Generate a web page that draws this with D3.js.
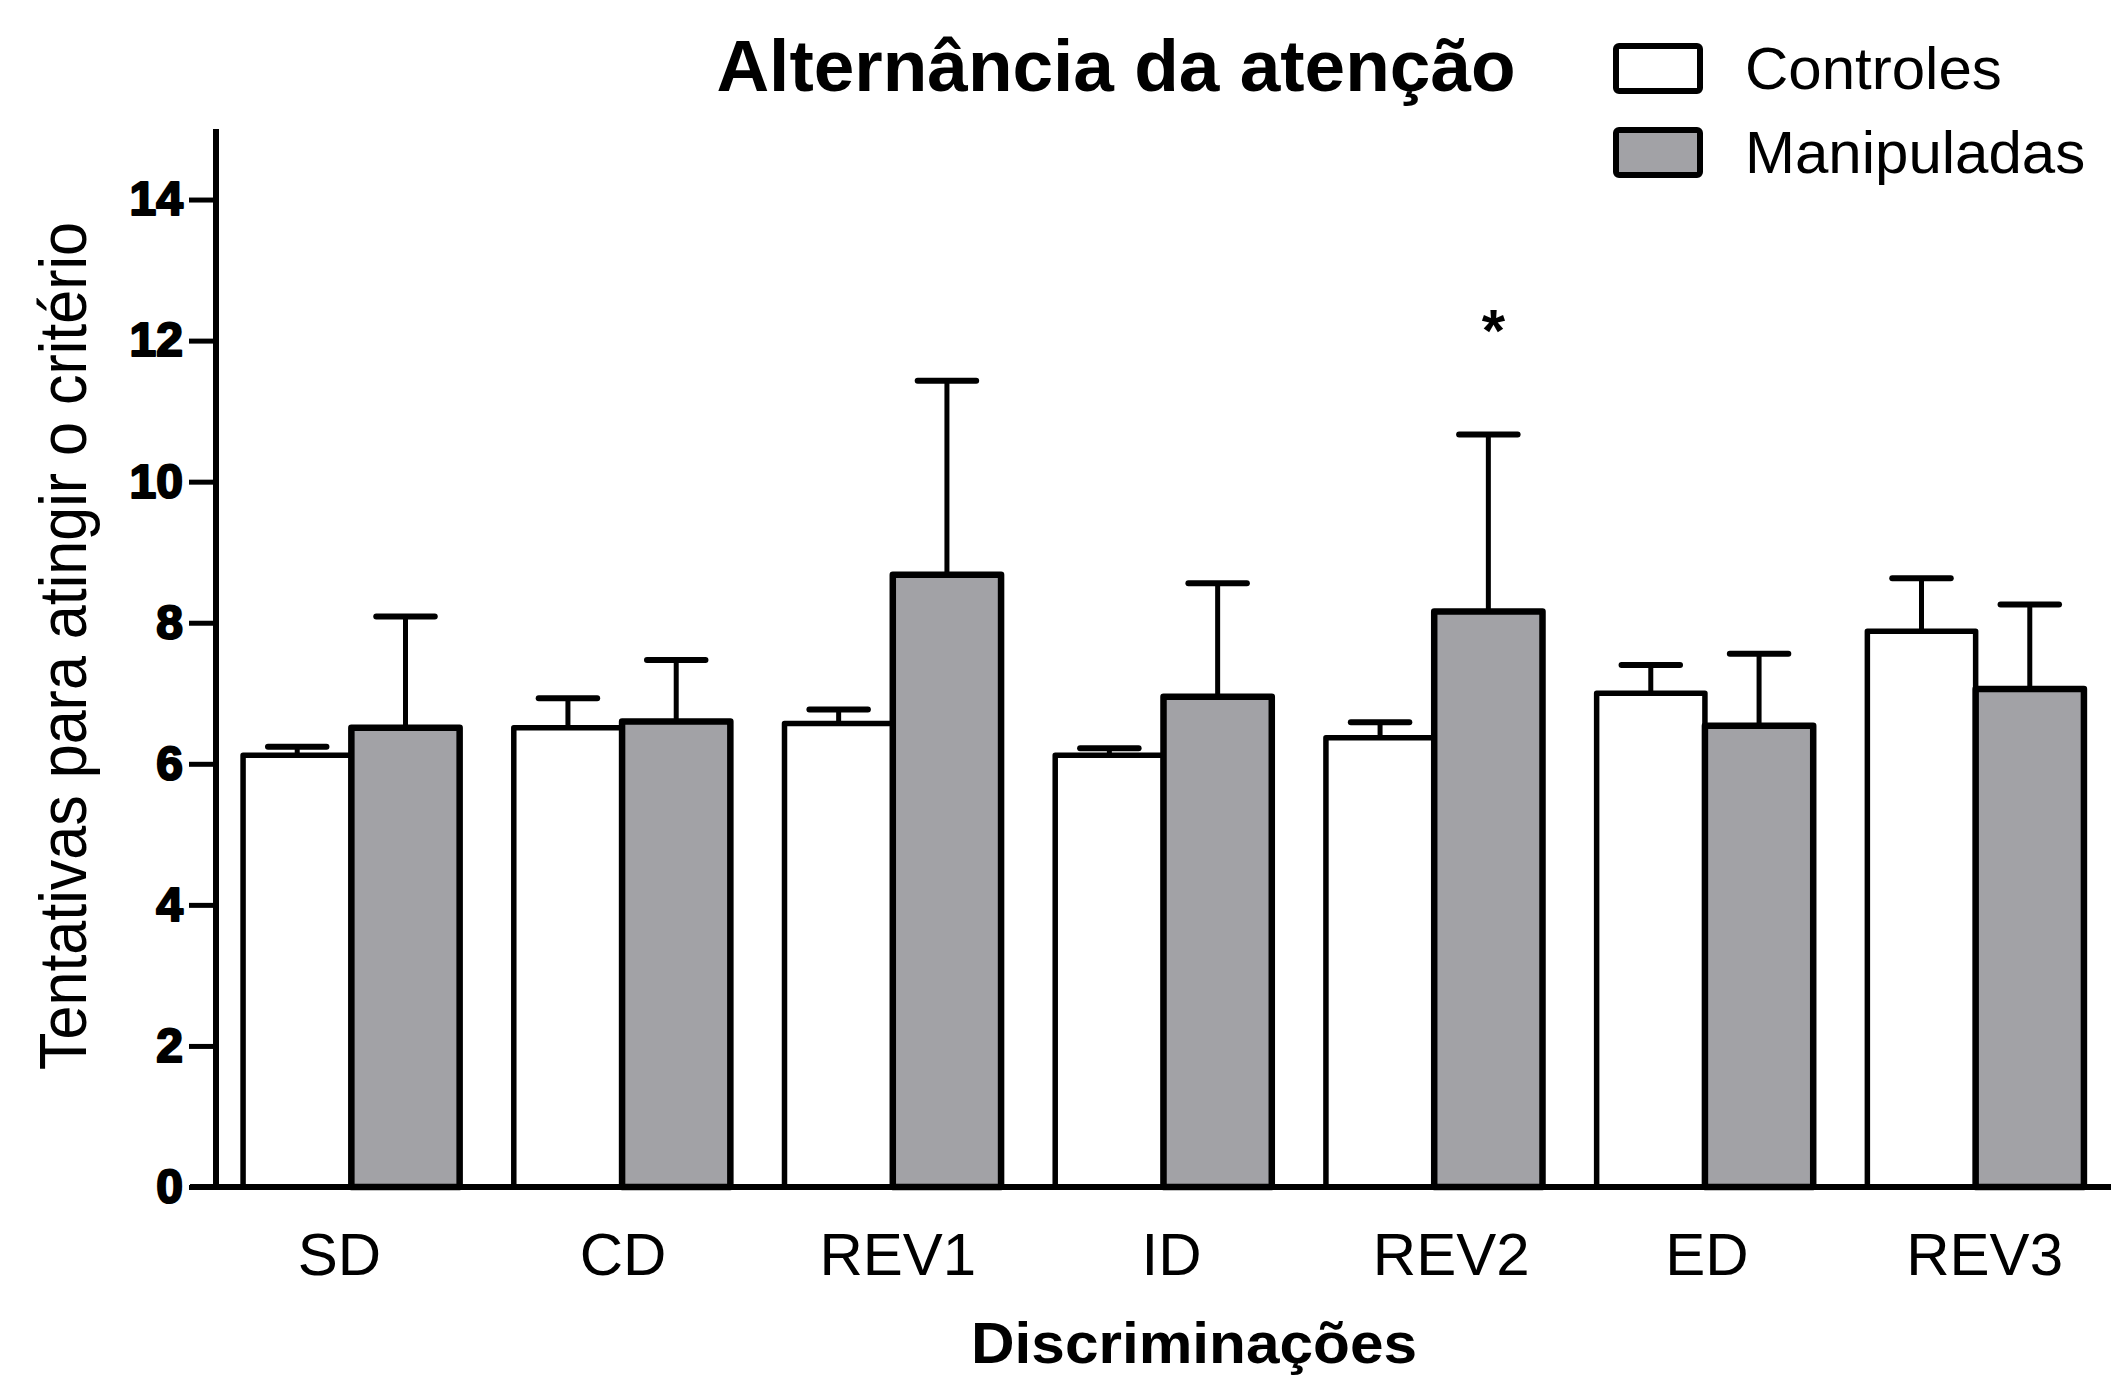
<!DOCTYPE html>
<html>
<head>
<meta charset="utf-8">
<script src="https://cdn.jsdelivr.net/npm/d3@7"></script>
<style>
  html, body { margin: 0; padding: 0; background: #fff; }
  svg { display: block; }
  text { font-family: "Liberation Sans", Arial, sans-serif; fill: #000; }
</style>
</head>
<body>
<svg id="chart" width="2111" height="1375"></svg>
<script>
const categories = ["SD", "CD", "REV1", "ID", "REV2", "ED", "REV3"];
const seriesNames = ["Controles", "Manipuladas"];
const controlesMean = [6.12, 6.51, 6.57, 6.12, 6.37, 7.00, 7.88];
const controlesErr  = [0.12, 0.42, 0.20, 0.10, 0.22, 0.40, 0.75];
const manipMean     = [6.51, 6.60, 8.68, 6.95, 8.16, 6.54, 7.06];
const manipErr      = [1.58, 0.87, 2.75, 1.61, 2.51, 1.02, 1.20];
const yTicks = [0, 2, 4, 6, 8, 10, 12, 14];
const significant = ["REV2"];
const titleText = "Alternância da atenção";
const yTitle = "Tentativas para atingir o critério";
const xTitle = "Discriminações";
const fills = ["#ffffff", "#a2a2a6"];
const labelShift = [-12, 1, 5, 8, 17, 2, 9];

const svg = d3.select("#chart");
const axisX = 216, y0px = 1187;

const y = d3.scaleLinear().domain([0, 15]).range([y0px, 129]);
const x0 = d3.scaleBand().domain(categories).range([axisX, 2111]).paddingInner(0.2).paddingOuter(0.1);
const x1 = d3.scaleBand().domain(seriesNames).range([0, x0.bandwidth()]).padding(0);

const data = categories.map((c, i) => ({
  cat: c,
  vals: [
    { s: seriesNames[0], m: controlesMean[i], e: controlesErr[i] },
    { s: seriesNames[1], m: manipMean[i], e: manipErr[i] }
  ]
}));

const groups = svg.append("g").selectAll("g").data(data).join("g")
  .attr("transform", d => `translate(${x0(d.cat)},0)`);

// error bars (upward)
groups.selectAll("line.err").data(d => d.vals).join("line")
  .attr("class", "err")
  .attr("x1", d => x1(d.s) + x1.bandwidth() / 2)
  .attr("x2", d => x1(d.s) + x1.bandwidth() / 2)
  .attr("y1", d => y(d.m))
  .attr("y2", d => y(d.m + d.e))
  .attr("stroke", "#000").attr("stroke-width", 5);
groups.selectAll("line.cap").data(d => d.vals).join("line")
  .attr("class", "cap")
  .attr("x1", d => x1(d.s) + x1.bandwidth() * 0.23)
  .attr("x2", d => x1(d.s) + x1.bandwidth() * 0.77)
  .attr("y1", d => y(d.m + d.e))
  .attr("y2", d => y(d.m + d.e))
  .attr("stroke", "#000").attr("stroke-width", 6).attr("stroke-linecap", "round");

// bars
groups.selectAll("rect").data(d => d.vals).join("rect")
  .attr("x", d => x1(d.s))
  .attr("width", x1.bandwidth())
  .attr("y", d => y(d.m))
  .attr("height", d => y0px - y(d.m))
  .attr("fill", (d, i) => fills[i])
  .attr("stroke", "#000")
  .attr("stroke-width", (d, i) => i === 0 ? 5.5 : 6.5)
  .attr("stroke-linejoin", "round");

// significance asterisk
significant.forEach(c => {
  const i = categories.indexOf(c);
  svg.append("text")
    .attr("x", x0(c) + x1(seriesNames[1]) + x1.bandwidth() / 2 + 5)
    .attr("y", y(manipMean[i] + manipErr[i]) - 83)
    .attr("text-anchor", "middle")
    .attr("font-size", 60).attr("font-weight", "bold")
    .text("*");
});

// Y axis
const yAxis = d3.axisLeft(y).tickValues(yTicks).tickSize(27).tickPadding(6).tickFormat(d3.format("d"));
const gy = svg.append("g").attr("transform", `translate(${axisX},0)`).call(yAxis);
gy.select(".domain").remove();
gy.selectAll(".tick line").attr("stroke", "#000").attr("stroke-width", 5);
gy.selectAll(".tick text").attr("font-size", 48).attr("font-weight", "bold")
  .attr("font-family", "'Liberation Sans', Arial, sans-serif").attr("fill", "#000")
  .attr("stroke", "#000").attr("stroke-width", 2.2).attr("stroke-linejoin", "round");
svg.append("line").attr("x1", axisX).attr("x2", axisX).attr("y1", y(15)).attr("y2", y0px + 2.5)
  .attr("stroke", "#000").attr("stroke-width", 6);

// X axis
const xAxis = d3.axisBottom(x0).tickSize(0).tickPadding(45);
const gx = svg.append("g").attr("transform", `translate(0,${y0px})`).call(xAxis);
gx.select(".domain").remove();
gx.selectAll(".tick text").attr("font-size", 60)
  .attr("dx", (d, i) => labelShift[i])
  .attr("font-family", "'Liberation Sans', Arial, sans-serif").attr("fill", "#000");
svg.append("line").attr("x1", 190).attr("x2", 2111).attr("y1", y0px).attr("y2", y0px)
  .attr("stroke", "#000").attr("stroke-width", 6);

// Titles
svg.append("text").attr("x", 1116).attr("y", 91).attr("text-anchor", "middle")
  .attr("font-size", 73).attr("font-weight", "bold").text(titleText);
svg.append("text").attr("x", 1194).attr("y", 1363).attr("text-anchor", "middle")
  .attr("font-size", 57).attr("font-weight", "bold")
  .attr("textLength", 446).attr("lengthAdjust", "spacingAndGlyphs").text(xTitle);
svg.append("text").attr("transform", "translate(86,646) rotate(-90)").attr("text-anchor", "middle")
  .attr("font-size", 67)
  .attr("textLength", 848).attr("lengthAdjust", "spacingAndGlyphs").text(yTitle);

// Legend
const legend = svg.append("g");
const legY = [46, 130];
seriesNames.forEach((s, i) => {
  legend.append("rect").attr("x", 1616).attr("y", legY[i]).attr("width", 84).attr("height", 45)
    .attr("rx", 3).attr("fill", fills[i]).attr("stroke", "#000").attr("stroke-width", 6);
  legend.append("text").attr("x", 1745).attr("y", legY[i] + 43).attr("font-size", 60).text(s);
});
</script>
</body>
</html>
